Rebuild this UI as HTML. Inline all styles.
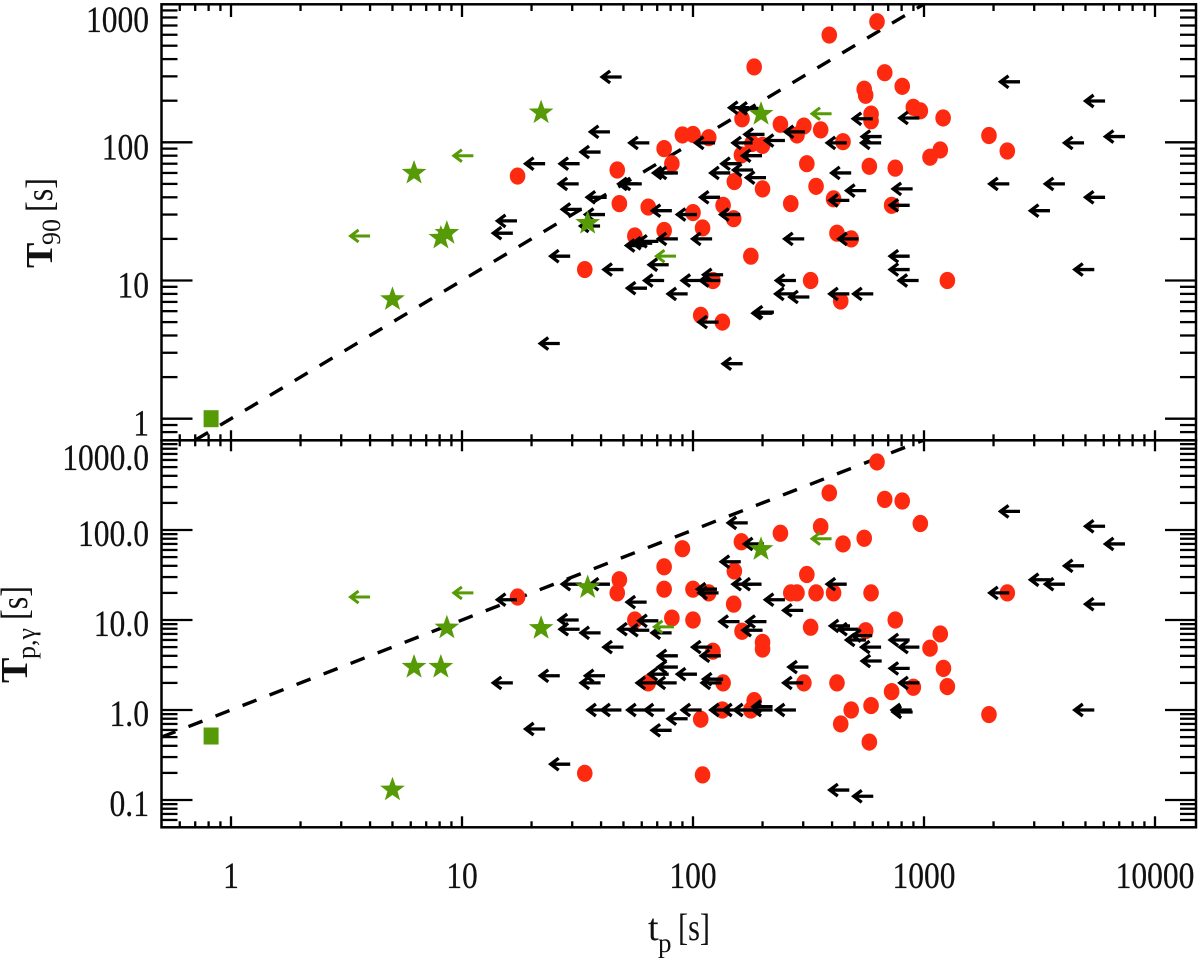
<!DOCTYPE html>
<html lang="en">
<head>
<meta charset="utf-8">
<title>T90 and Tp,gamma versus tp</title>
<style>
html,body{margin:0;padding:0;background:#fff;}
svg{display:block;}
text{font-family:"Liberation Serif","DejaVu Serif",serif;fill:#111;}
</style>
</head>
<body>
<svg id="chart" xmlns="http://www.w3.org/2000/svg" width="1200" height="959" viewBox="0 0 1200 959">
<defs>
<clipPath id="clip-top"><rect x="161.5" y="4.3" width="1034.5" height="436"/></clipPath>
<clipPath id="clip-bottom"><rect x="161.5" y="440.3" width="1034.5" height="387"/></clipPath>
</defs>
<rect x="0" y="0" width="1200" height="959" fill="#ffffff"/>
<g id="layer-lines"></g>
<g id="layer-red"></g>
<g id="layer-arrows"></g>
<g id="layer-green"></g>
<g id="layer-axes"></g>
<g id="layer-labels"></g>

<text y="940" font-size="38"><tspan x="648">t</tspan><tspan x="658" y="952" font-size="27">p</tspan><tspan x="678" y="940" textLength="32" lengthAdjust="spacingAndGlyphs">[s]</tspan></text>

<g transform="translate(52,268) rotate(-90)">
<text x="0" y="0" font-size="38" font-weight="bold">T</text>
<text x="23" y="8" font-size="26">90</text>
<text x="56" y="0" font-size="38" textLength="34" lengthAdjust="spacingAndGlyphs">[s]</text>
</g>
<g transform="translate(27,683) rotate(-90)">
<text x="0" y="0" font-size="38" font-weight="bold">T</text>
<text x="24" y="8" font-size="26">p,γ</text>
<text x="63" y="0" font-size="38" textLength="34" lengthAdjust="spacingAndGlyphs">[s]</text>
</g>
</svg>
<script>
var xTickLabels = ['1','10','100','1000','10000'];
var xTickValues = [1,10,100,1000,10000];
var topTickLabels = ['1','10','100','1000'];
var topTickValues = [1,10,100,1000];
var bottomTickLabels = ['0.1','1.0','10.0','100.0','1000.0'];
var bottomTickValues = [0.1,1,10,100,1000];

var refLineTopTp = [0.7,1000];
var refLineBottomTp = [0.5,1000];

var topRedTp = [184,163,239,90,100,117,75,81,180,200,162,47,17.4,151,200,48,64,135,265,100,150,75,110,56,178,34,122,108,134,389,626,676,551,559,805,899,964,590,590,1210,302,357,282,446,1176,1062,1911,2294,311,580,751,341,406,724,420,484,323,1262,436];
var topRedT90 = [351,148,135,113,114,108,90,70,98,95,81,63,57,52,46,36,34,35,36,31,28,23,24,21,15,12,10,5.6,5,597,746,319,242,219,254,179,169,160,143,150,131,123,113,101,88,78,112,86.5,70,67,65,48,39,35,22,20,10,10,7.1];

var topLimitTp = [49.1,43.7,64.7,39.8,22.9,32.3,32,86,82,58,60,42.3,33,41.6,39.6,17.3,16.6,29.4,81,104,70.8,66.6,62.6,86,121,78.5,50,75,63.2,94.8,109,135,131,129,26.5,164,175,192,124.6,131,160,204,181,250,199,162,182,145,207,305,224,221,279,277,319,303,2604,6080,600,955,7413,4930,463,656,652,484,562,893,475,867,2340,4074,6080,3510,520,867,867,948,5460,475,603];
var topLimitT90 = [297,119,99,85,70,70,50,60,60,50,50,40,32.7,30,24.8,27,22,15,32,30,19.2,18.6,17.9,20,20,13,12,10,8.8,8,10,11,10,5,3.5,2.5,178,176,99,40,30,114,99,103,80,70,63,60,55.5,119,5.9,5.8,10,8,7.6,20,274,199,148,150,110,99,99,110,99,60,44.7,46,38,35,50,50,40,32,20,15,12,10,12,8,8];

var topGreenLimitTp = [11.2,84.4,398,4];
var topGreenLimitT90 = [80,15,161,21];
var topStarTp = [5,6.2,8.1,8.6,22,35,197];
var topStarT90 = [7.3,60,20.3,22,164,26,160];
var topSquareTp = [0.82];
var topSquareT90 = [1];

var bottomRedTp = [239,90,162,75,48,47,75,100,117,17.4,151,150,56,81,100,265,282,163,200,200,122,135,64,302,184,134,178,108,34,110,626,389,676,805,964,357,551,446,311,341,406,590,2294,323,559,751,1176,1062,1214,1262,899,724,420,590,484,436,1911,580];
var bottomRedTpg = [92,62,74,39,28,20,22,22,20,18,35,15,10,10.5,10,20,20,7.5,5.65,4.76,4.5,2,2,2,1.27,1,1,0.79,0.198,0.19,570,258,219,210,118,109,81,70,32,20,20,20,20,8.3,7.6,10,7,4.86,2.9,1.82,1.79,1.6,2,1.12,1,0.7,0.89,0.44];

var bottomLimitTp = [172.6,203,161,198,181,43.7,33,17.3,127,129,63,250,300,32,32.3,39.8,58,64.7,70.8,80.8,159,208,200,50,121,132,86,86,78.5,104,16.6,26.5,41.6,39.8,69.6,85,135,133,316,300,42.6,49,63.4,75.5,109,145,165,184,221,221,279,94.8,80.8,22.9,29.4,2604,6080,7413,4930,3510,4074,6080,2340,463,478,520,597,561,652,867,955,656,867,955,885,893,5460,475,603];
var bottomLimitTpg = [120,70,44.4,25,25,25,25,16.8,22,20,15.8,16.8,12.8,10,7.9,7.2,7.9,7.7,9.8,7.2,9.6,9.6,7.7,5,5,4,4,3,2.5,2.5,2,2.4,2.4,2,2,2,2.2,2,3,2,1,1,1,1,1,1,1,1,1,1.09,1,0.8,0.595,0.615,0.25,161,110,70,40,28,25,15,20,25,8.6,7.9,6.7,6,5,6,5,3.5,2.9,2,1,0.95,1,0.129,0.11];

var bottomGreenLimitTp = [11.2,82.7,398,4];
var bottomGreenLimitTpg = [20,8.4,80,18];
var bottomStarTp = [5,6.2,8.1,8.6,22,35,197];
var bottomStarTpg = [0.13,3,3,8.2,8.1,23,61];
var bottomSquareTp = [0.82];
var bottomSquareTpg = [0.514];

var NS = 'http://www.w3.org/2000/svg';
var RED = '#fe2a10';
var GREEN = '#569a06';
var LEFT = 161.5, RIGHT = 1196;

function log10(v){ return Math.log(v) / Math.LN10; }
function xScale(v){ return 231 + 231 * log10(v); }
function yTop(v){ return 418.7 - 138.2 * log10(v); }
function yBottom(v){ return 710 - 90 * log10(v); }

function make(tag, attrs, parent){
  var el = document.createElementNS(NS, tag);
  for (var k in attrs) el.setAttribute(k, attrs[k]);
  parent.appendChild(el);
  return el;
}

var layerLines = document.getElementById('layer-lines');
var layerRed = document.getElementById('layer-red');
var layerArrows = document.getElementById('layer-arrows');
var layerGreen = document.getElementById('layer-green');
var layerAxes = document.getElementById('layer-axes');
var layerLabels = document.getElementById('layer-labels');

function drawRefLine(tp, yFn, clip){
  var el = make('line', {
    x1: xScale(tp[0]), y1: yFn(tp[0]), x2: xScale(tp[1]), y2: yFn(tp[1]),
    stroke: '#000', 'stroke-width': 3.4, 'stroke-dasharray': '15 14', 'clip-path': 'url(#' + clip + ')'
  }, layerLines);
  
  
}

function drawReds(tp, t, yFn){
  for (var i = 0; i < tp.length; i++){
    var el = make('ellipse', { cx: xScale(tp[i]), cy: yFn(t[i]), rx: 7.8, ry: 8.6, fill: RED }, layerRed);
    
    
  }
}

function drawArrows(tp, t, yFn, color, width, layer, name){
  for (var i = 0; i < tp.length; i++){
    var x = xScale(tp[i]), y = yFn(t[i]), tip = x - 19.5;
    var d = 'M' + x + ' ' + y + 'L' + tip + ' ' + y +
            'M' + (tip + 8) + ' ' + (y - 6) + 'L' + tip + ' ' + y + 'L' + (tip + 8) + ' ' + (y + 6);
    var el = make('path', { d: d, fill: 'none', stroke: color, 'stroke-width': width }, layer);
    
    
  }
}

function drawStars(tp, t, yFn){
  var R = 13, r = 5.3;
  for (var i = 0; i < tp.length; i++){
    var cx = xScale(tp[i]), cy = yFn(t[i]), pts = [];
    for (var k = 0; k < 10; k++){
      var a = -Math.PI / 2 + k * Math.PI / 5, rad = k % 2 ? r : R;
      pts.push((cx + rad * Math.cos(a)).toFixed(2) + ',' + (cy + rad * Math.sin(a)).toFixed(2));
    }
    var el = make('polygon', { points: pts.join(' '), fill: GREEN }, layerGreen);
    
    
  }
}

function drawSquares(tp, t, yFn){
  for (var i = 0; i < tp.length; i++){
    var el = make('rect', { x: xScale(tp[i]) - 7.5, y: yFn(t[i]) - 8.5, width: 15, height: 17, fill: GREEN }, layerGreen);
    
    
  }
}

function tick(x1, y1, x2, y2, w){
  var el = make('line', { x1: x1, y1: y1, x2: x2, y2: y2, stroke: '#000', 'stroke-width': w }, layerAxes);
  
  
}

function drawXTicks(y, dir, majorLen, minorLen){
  for (var d = -1; d <= 4; d++){
    for (var m = 1; m <= 9; m++){
      var v = m * Math.pow(10, d);
      if (v < 0.55 || v > 10001) continue;
      var x = xScale(v);
      tick(x, y, x, y + dir * (m === 1 ? majorLen : minorLen), 2.3);
    }
  }
}

function drawYTicks(yFn, minV){
  for (var d = -2; d <= 3; d++){
    for (var m = 1; m <= 9; m++){
      var v = m * Math.pow(10, d);
      if (v < minV || v > 999) continue;
      var y = yFn(v), len = m === 1 ? 31 : 16;
      tick(LEFT, y, LEFT + len, y, 2.3);
      tick(RIGHT, y, RIGHT - len, y, 2.3);
    }
  }
}

function frame(y1, y2){
  var el = make('rect', { x: LEFT, y: y1, width: RIGHT - LEFT, height: y2 - y1, fill: 'none', stroke: '#000', 'stroke-width': 2.5 }, layerAxes);
  
  
}

function labelWidth(s){
  var w = 0;
  for (var i = 0; i < s.length; i++) w += s.charAt(i) === '.' ? 8 : 15.75;
  return w;
}

function label(s, x, y, anchor, name){
  var el = make('text', { x: x, y: y, 'font-size': 37, 'text-anchor': anchor, textLength: labelWidth(s), lengthAdjust: 'spacingAndGlyphs', stroke: '#111', 'stroke-width': 0.25 }, layerLabels);
  el.textContent = s;
  
  
}

/* series */
drawRefLine(refLineTopTp, yTop, 'clip-top');
drawRefLine(refLineBottomTp, yBottom, 'clip-bottom');
drawReds(topRedTp, topRedT90, yTop);
drawReds(bottomRedTp, bottomRedTpg, yBottom);
drawArrows(topLimitTp, topLimitT90, yTop, '#000', 3.3, layerArrows, 'upper-limit-arrow');
drawArrows(bottomLimitTp, bottomLimitTpg, yBottom, '#000', 3.3, layerArrows, 'upper-limit-arrow');
drawStars(topStarTp, topStarT90, yTop);
drawStars(bottomStarTp, bottomStarTpg, yBottom);
drawSquares(topSquareTp, topSquareT90, yTop);
drawSquares(bottomSquareTp, bottomSquareTpg, yBottom);
drawArrows(topGreenLimitTp, topGreenLimitT90, yTop, GREEN, 3, layerGreen, 'green-limit-arrow');
drawArrows(bottomGreenLimitTp, bottomGreenLimitTpg, yBottom, GREEN, 3, layerGreen, 'green-limit-arrow');

/* axes */
frame(4.3, 440.3);
frame(440.3, 827.3);
drawXTicks(4.3, 1, 12.7, 6.7);
drawXTicks(440.3, -1, 10, 6);
drawXTicks(440.3, 1, 11, 6);
drawXTicks(827.3, -1, 11, 6);
drawYTicks(yTop, 0.75);
drawYTicks(yBottom, 0.055);

/* tick labels */
for (var i = 0; i < xTickValues.length; i++){
  label(xTickLabels[i], xScale(xTickValues[i]), 888, 'middle', 'x-tick-label');
}
for (var j = 0; j < topTickValues.length; j++){
  var ty = topTickValues[j] === 1000 ? 32 : yTop(topTickValues[j]) + 17;
  label(topTickLabels[j], 149, ty, 'end', 'top-y-tick-label');
}
for (var n = 0; n < bottomTickValues.length; n++){
  var by = bottomTickValues[n] === 1000 ? 470 : yBottom(bottomTickValues[n]) + 16;
  label(bottomTickLabels[n], 149, by, 'end', 'bottom-y-tick-label');
}
</script>
</body>
</html>
